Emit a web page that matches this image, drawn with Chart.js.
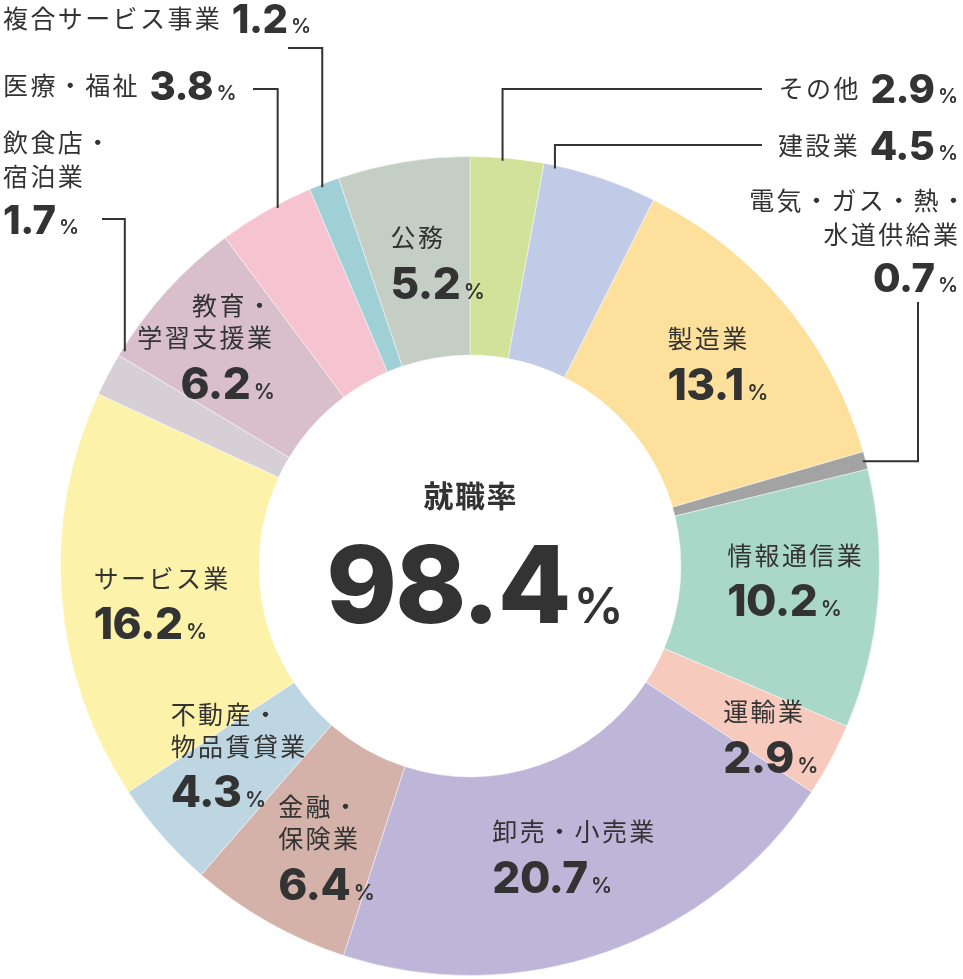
<!DOCTYPE html>
<html lang="ja">
<head>
<meta charset="utf-8">
<title>就職率</title>
<script src="https://cdn.jsdelivr.net/npm/chart.js@4.4.1/dist/chart.umd.min.js"></script>
<style>
  html, body { margin: 0; padding: 0; background: #fff; }
  #wrap { width: 963px; height: 979px; }
</style>
</head>
<body>
<div id="wrap"><canvas id="myChart" width="963" height="979"></canvas></div>
<script>
// data
const categories = ['その他', '建設業', '製造業', '電気・ガス・熱・水道供給業', '情報通信業', '運輸業',
  '卸売・小売業', '金融・保険業', '不動産・物品賃貸業', 'サービス業', '飲食店・宿泊業',
  '教育・学習支援業', '医療・福祉', '複合サービス事業', '公務'];
const shares = [2.9, 4.5, 13.1, 0.7, 10.2, 2.9, 20.7, 6.4, 4.3, 16.2, 1.7, 6.2, 3.8, 1.2, 5.2];
const centerTitle = '就職率';
const employmentRate = 98.4;

const colors = ['#d3e29b', '#c1cbe8', '#fde09b', '#a3a3a3', '#a9d8c9', '#f7cabe', '#bdb6d8',
  '#d4b2a9', '#bed5e2', '#fdf2a9', '#d6d0d6', '#d8bfcb', '#f6c3d0', '#9fd0d5', '#c4cec5'];

// label placement (inner: offset from slice centre, outer: absolute text spot + leader)
const labelLayout = [
  { lines: ['その他'], out: true, inline: true, x: 958, y: 88, align: 'right', leader: { f: 0.44, type: 'vh', x: 762, y: 89 } },
  { lines: ['建設業'], out: true, inline: true, x: 958, y: 145, align: 'right', leader: { f: 0.10, type: 'vh', x: 762, y: 145 } },
  { lines: ['製造業'], dx: -41, dy: -29 },
  { lines: ['電気・ガス・熱・', '水道供給業'], out: true, x: 958, y: 200, align: 'right', lineDx: [8, 0], leader: { f: 0.5, type: 'hv', x: 918, y: 302 } },
  { lines: ['情報通信業'], dx: -52, dy: -36 },
  { lines: ['運輸業'], dx: -20, dy: -1 },
  { lines: ['卸売・小売業'], dx: -80, dy: -27 },
  { lines: ['金融・', '保険業'], dx: -39, dy: -29 },
  { lines: ['不動産・', '物品賃貸業'], dx: -66, dy: -56 },
  { lines: ['サービス業'], dx: -67, dy: -11 },
  { lines: ['飲食店・', '宿泊業'], out: true, x: 3, y: 142, align: 'left', leader: { f: 1.15, type: 'vh', x: 102, y: 219 } },
  { lines: ['教育・', '学習支援業'], dx: 32, dy: -52, align: 'right' },
  { lines: ['医療・福祉'], out: true, inline: true, x: 3, y: 85, align: 'left', leader: { f: 0.62, type: 'vh', x: 253, y: 89 } },
  { lines: ['複合サービス事業'], out: true, inline: true, x: 3, y: 18, align: 'left', leader: { f: 0.4, type: 'vh', x: 288, y: 48 } },
  { lines: ['公務'], dx: -29, dy: -22 }
];

const INK = '#333333';
const JP = { font: '400 25px "Noto Sans CJK JP"', sp: 2.4, base: 'middle', off: 0 };
const NUM = { font: '800 44px Inter', sp: -0.5, base: 'alphabetic', off: 16 };
const NUM_OUT = { font: '800 40px Inter', sp: -0.5, base: 'alphabetic', off: 14.5 };
const PCT = { font: '600 21px Inter', sp: 0, base: 'alphabetic', off: 16 };
const PCT_OUT = { font: '600 20px Inter', sp: 0, base: 'alphabetic', off: 14.5 };

function partWidth(ctx, p) {
  ctx.font = p.style.font;
  ctx.letterSpacing = p.style.sp + 'px';
  return ctx.measureText(p.t).width - p.style.sp;
}

// draw a row of differently styled runs, centred vertically on y
function drawRow(ctx, parts, x, y, align) {
  const widths = parts.map(p => partWidth(ctx, p));
  let total = 0;
  parts.forEach((p, i) => { total += widths[i] + (p.gap || 0); });
  let cx = align === 'right' ? x - total : (align === 'center' ? x - total / 2 : x);
  ctx.textAlign = 'left';
  parts.forEach((p, i) => {
    ctx.font = p.style.font;
    ctx.letterSpacing = p.style.sp + 'px';
    ctx.textBaseline = p.style.base;
    ctx.fillText(p.t, cx, y + p.style.off);
    cx += widths[i] + (p.gap || 0);
  });
}

function drawLeader(ctx, a, ld) {
  const ang = a.startAngle + ld.f * (a.endAngle - a.startAngle);
  const r = a.outerRadius - 3;
  const ax = a.x + Math.cos(ang) * r;
  const ay = a.y + Math.sin(ang) * r;
  ctx.beginPath();
  if (ld.type === 'vh') {
    ctx.moveTo(ld.x, ld.y);
    ctx.lineTo(ax, ld.y);
    ctx.lineTo(ax, ay);
  } else {
    ctx.moveTo(ax, ay);
    ctx.lineTo(ld.x, ay);
    ctx.lineTo(ld.x, ld.y);
  }
  ctx.strokeStyle = INK;
  ctx.lineWidth = 2;
  ctx.stroke();
}

const sliceLabels = {
  id: 'sliceLabels',
  afterDraw(chart) {
    const ctx = chart.ctx;
    const arcs = chart.getDatasetMeta(0).data;
    ctx.save();
    ctx.fillStyle = INK;
    arcs.forEach((arc, i) => {
      const lay = labelLayout[i];
      const a = arc.getProps(['x', 'y', 'startAngle', 'endAngle', 'innerRadius', 'outerRadius'], true);
      const val = shares[i].toFixed(1);
      if (lay.leader) drawLeader(ctx, a, lay.leader);
      if (lay.out) {
        if (lay.inline) {
          drawRow(ctx, [
            { t: lay.lines[0], style: JP, gap: 12 },
            { t: val, style: NUM_OUT, gap: 3 },
            { t: '%', style: PCT_OUT }
          ], lay.x, lay.y, lay.align);
        } else {
          let y = lay.y;
          lay.lines.forEach((ln, k) => {
            drawRow(ctx, [{ t: ln, style: JP }], lay.x + ((lay.lineDx || [])[k] || 0), y, lay.align);
            y += 34;
          });
          drawRow(ctx, [{ t: val, style: NUM_OUT, gap: 3 }, { t: '%', style: PCT_OUT }], lay.x, y - 34 + 43, lay.align);
        }
      } else {
        const c = arc.getCenterPoint();
        const x = c.x + lay.dx;
        let y = c.y + lay.dy;
        const align = lay.align || 'left';
        lay.lines.forEach(ln => {
          drawRow(ctx, [{ t: ln, style: JP }], x, y, align);
          y += 32;
        });
        drawRow(ctx, [{ t: val, style: NUM, gap: 3 }, { t: '%', style: PCT }], x + (align === 'right' ? 3 : 0), y - 32 + 45, align);
      }
    });

    // centre text
    const cx = arcs[0].x, cy = arcs[0].y;
    drawRow(ctx, [{ t: centerTitle, style: { font: '700 30px "Noto Sans CJK JP"', sp: 1.5, base: 'middle', off: 0 } }], cx, cy - 70, 'center');
    drawRow(ctx, [
      { t: employmentRate.toFixed(1), style: { font: '800 107px Inter', sp: -2, base: 'alphabetic', off: 0 }, gap: 2 },
      { t: '%', style: { font: '600 50px Inter', sp: 0, base: 'alphabetic', off: 0 } }
    ], cx + 5, cy + 57, 'center');
    ctx.restore();
  }
};

new Chart(document.getElementById('myChart'), {
  type: 'doughnut',
  data: {
    labels: categories,
    datasets: [{
      data: shares,
      backgroundColor: colors,
      borderColor: 'rgba(255,255,255,0.45)',
      borderWidth: 1
    }]
  },
  options: {
    responsive: false,
    animation: false,
    cutout: '51.5%',
    layout: { padding: { left: 60, right: 83, top: 156, bottom: 3 } },
    plugins: {
      legend: { display: false },
      tooltip: { enabled: false }
    }
  },
  plugins: [sliceLabels]
});
</script>
</body>
</html>
